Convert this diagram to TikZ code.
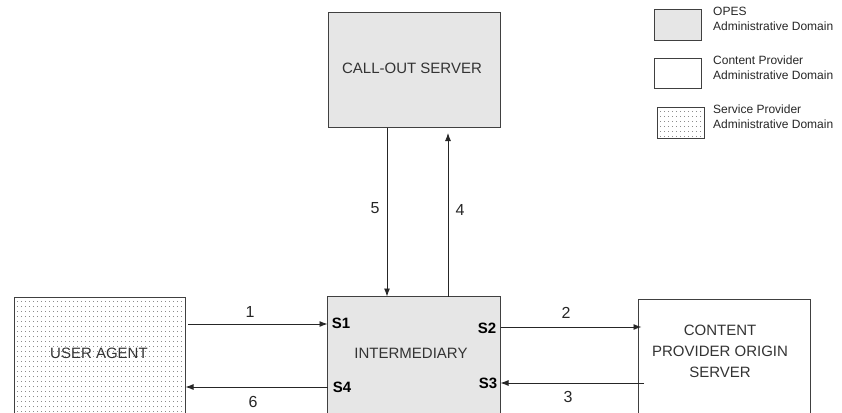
\documentclass[tikz,border=0pt]{standalone}
\usepackage{fontspec}
\setmainfont{Liberation Sans}
\usetikzlibrary{arrows.meta}
\definecolor{opes}{HTML}{E6E6E6}
\definecolor{edgec}{HTML}{404040}
\definecolor{dotc}{HTML}{8C8C8C}
\begin{document}
\begin{tikzpicture}[x=1pt,y=-1pt,
  box/.style={draw=edgec, line width=1pt, inner sep=0pt, outer sep=0pt, anchor=north west},
  opesbox/.style={box, fill=opes},
  cpbox/.style={box, fill=white},
  arr/.style={draw=black!85, line width=0.9pt, -{Latex[length=8pt,width=6pt]}},
  maintext/.style={font=\fontsize{15}{21}\selectfont, text=black!80, align=center, inner sep=0pt},
  numtext/.style={font=\fontsize{16}{18}\selectfont, text=black!85, inner sep=0pt},
  stext/.style={font=\fontsize{15}{17}\selectfont\bfseries, inner sep=0pt},
  legtext/.style={font=\fontsize{12}{15}\selectfont, text=black!85, align=left, anchor=north west, inner sep=0pt}
]
\useasboundingbox (0,0) rectangle (842,412);
\clip (0,0) rectangle (842,412);

% boxes
\node[opesbox, minimum width=172pt, minimum height=115pt] (callout) at (328.5,12.5) {};
\node[opesbox, minimum width=173pt, minimum height=124pt] (inter) at (327.5,296.5) {};
\node[cpbox, minimum width=171pt, minimum height=123pt] (ua) at (14.5,297.5) {};
\node[cpbox, minimum width=172pt, minimum height=121pt] (cp) at (638.5,299.5) {};

% dots for user agent
\begin{scope}
  \clip (16,299) rectangle (184,412);
  \foreach \i in {0,...,42} {
    \foreach \j in {0,...,23} {
      \fill[dotc] ({17+4*\i},{301+5*\j}) rectangle ++(1,1);
    }
  }
\end{scope}

% texts in boxes
\node[maintext] (callouttxt) at (412,68) {CALL-OUT SERVER};
\node[maintext] (intertxt) at (411,353) {INTERMEDIARY};
\node[maintext] (uatxt) at (99,353) {USER AGENT};
\node[maintext] (cptxt) at (720,351) {CONTENT\\PROVIDER ORIGIN\\SERVER};

% S labels
\node[stext] (s1) at (341,323) {S1};
\node[stext] (s4) at (342,387) {S4};
\node[stext] (s2) at (487,328) {S2};
\node[stext] (s3) at (488,383) {S3};

% connectors
\coordinate (a1) at (188,324);
\draw[arr] (a1) -- (a1 -| inter.west);
\coordinate (a6) at (327.5,387);
\draw[arr] (a6) -- (a6 -| ua.east);
\coordinate (a2) at (500.5,327);
\coordinate (a2e) at (641.5,327);
\draw[arr] (a2) -- (a2e);
\coordinate (a3) at (644,383);
\draw[arr] (a3) -- (a3 -| inter.east);
\coordinate (a5) at (387,127.5);
\draw[arr] (a5) -- (a5 |- inter.north);
\coordinate (a4) at (448,296.5);
\coordinate (a4e) at (448,133);
\draw[arr] (a4) -- (a4e);

% number labels
\node[numtext] (n1) at (250,312) {1};
\node[numtext] (n2) at (566,313) {2};
\node[numtext] (n3) at (568,397) {3};
\node[numtext] (n4) at (460,210) {4};
\node[numtext] (n5) at (375,208) {5};
\node[numtext] (n6) at (253,402) {6};

% legend
\node[opesbox, minimum width=47pt, minimum height=31pt] (leg1) at (654.5,9.5) {};
\node[cpbox, minimum width=47pt, minimum height=30pt] (leg2) at (654.5,58.5) {};
\node[cpbox, minimum width=47pt, minimum height=31pt] (leg3) at (657.5,107.5) {};
\begin{scope}
  \clip (659,109) rectangle (703,137);
  \foreach \i in {0,...,11} {
    \foreach \j in {0,...,5} {
      \fill[dotc] ({660+4*\i},{111+5*\j}) rectangle ++(1,1);
    }
  }
\end{scope}
\node[legtext] (l1) at (713,7) {OPES\\Administrative Domain};
\node[legtext] (l2) at (713,56) {Content Provider\\Administrative Domain};
\node[legtext] (l3) at (713,105) {Service Provider\\Administrative Domain};
\end{tikzpicture}
\end{document}
